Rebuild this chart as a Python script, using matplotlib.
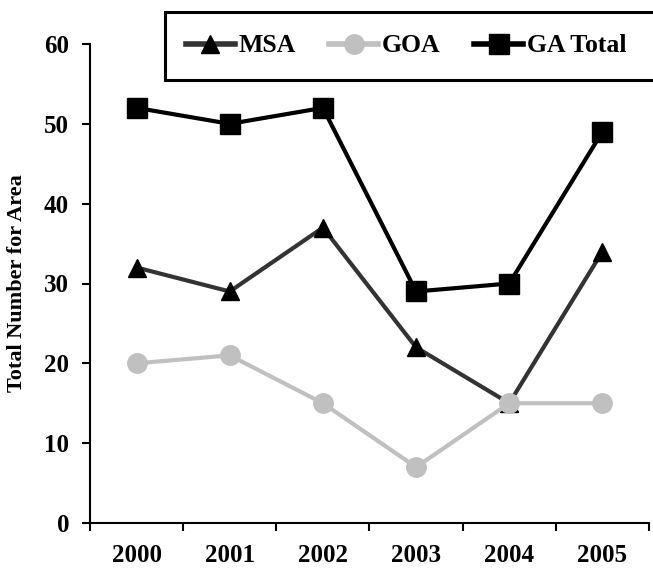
import matplotlib.pyplot as plt
from matplotlib.patches import Rectangle

# data
years = ['2000', '2001', '2002', '2003', '2004', '2005']
msa = [32, 29, 37, 22, 15, 34]
goa = [20, 21, 15, 7, 15, 15]
ga_total = [52, 50, 52, 29, 30, 49]

plt.rcParams['font.family'] = 'Liberation Serif'
plt.rcParams['font.weight'] = 'bold'

fig = plt.figure(figsize=(6.53, 5.74), dpi=100)
ax = fig.add_axes([90 / 653, 51 / 574, 559 / 653, 479 / 574])

x = list(range(len(years)))
ax.plot(x, msa, color='#333333', lw=3, marker='^', ms=13,
        mfc='black', mec='black', label='MSA', zorder=3)
ax.plot(x, goa, color='#c0c0c0', lw=3, marker='o', ms=14,
        mfc='#c0c0c0', mec='#c0c0c0', label='GOA', zorder=4)
ax.plot(x, ga_total, color='black', lw=3, marker='s', ms=14,
        mfc='black', mec='black', label='GA Total', zorder=3)

ax.set_xlim(-0.5, 5.5)
ax.set_ylim(0, 60)
ax.set_yticks(range(0, 61, 10))
ax.set_xticks([i + 0.5 for i in range(-1, 6)], minor=False)
ax.set_xticklabels([])
ax.set_xticks(x, minor=True)
ax.set_xticklabels(years, minor=True)
ax.tick_params(axis='x', which='minor', length=0, pad=15, labelsize=18)
ax.tick_params(axis='x', which='major', length=6, width=1.5, direction='out')
ax.tick_params(axis='y', length=6, width=1.5, direction='out', labelsize=18, pad=9)

for s in ['top', 'right']:
    ax.spines[s].set_visible(False)
for s in ['left', 'bottom']:
    ax.spines[s].set_linewidth(1.5)

ax.set_ylabel('Total Number for Area', fontsize=16, fontweight='bold', labelpad=12)

# legend box runs off the right edge of the figure
box = Rectangle((165 / 653, 1 - 80 / 574), 520 / 653, 68 / 574,
                transform=fig.transFigure, fill=True, facecolor='white',
                edgecolor='black', linewidth=2.2, zorder=5)
fig.patches.append(box)

leg = fig.legend(loc='center left', bbox_to_anchor=(186 / 653, 1 - 46 / 574),
                 ncol=3, fontsize=18.5, frameon=False,
                 handlelength=1.9, handletextpad=0.15, columnspacing=1.3,
                 borderpad=0, borderaxespad=0)
leg.set_zorder(6)
for h in leg.legend_handles:
    h.set_linewidth(4)

fig.savefig('out.png', dpi=100)
